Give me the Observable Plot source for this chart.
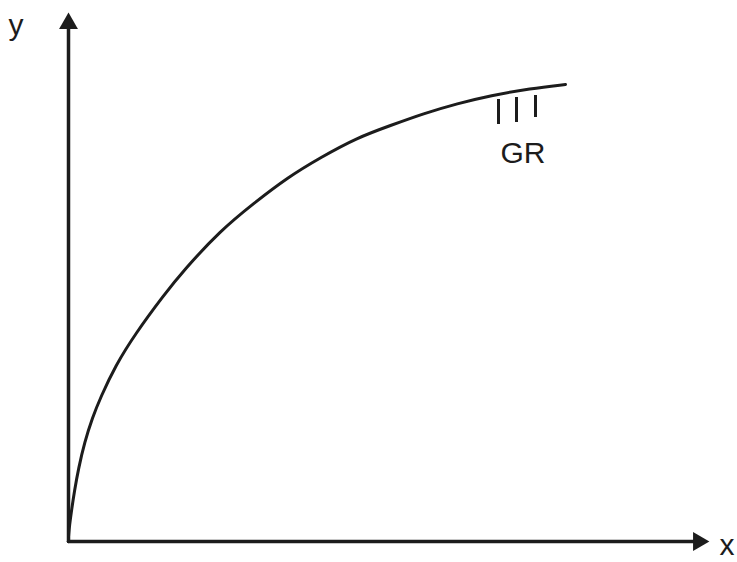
<!DOCTYPE html>
<html>
<head>
<meta charset="utf-8">
<script src="https://cdn.jsdelivr.net/npm/d3@7"></script>
<script src="https://cdn.jsdelivr.net/npm/@observablehq/plot@0.6"></script>
<style>
  html, body { margin: 0; padding: 0; background: #fff; }
  #chart svg { display: block; }
</style>
</head>
<body>
<div id="chart"></div>
<script>
// Saturating growth curve, drawn in plain units (origin at the axes' corner)
const curveX = [0, 1, 3, 6, 10, 16, 24, 32, 47, 67, 95, 115, 152, 185, 219, 252, 289, 322, 355, 389, 422, 462, 497];
const curveY = [5, 16, 31, 51, 73, 99, 124, 144, 176, 208, 246, 271, 311, 338, 364, 384, 404, 416, 428, 438, 446, 453, 457];

// Three short hatch strokes under the curve near its end
const hatchX = [430, 448, 467];
const hatchTop = [442, 444, 446];
const hatchBottom = [417, 419, 424];

// Axis extents and labels
const xAxisEnd = 628;
const yAxisEnd = 514;
const axisLabels = ["y", "x"];
const axisLabelX = [-60, 651];
const axisLabelY = [507, -13];
const curveLabel = "GR";
const curveLabelPos = [432, 379];

const ink = "#1c1c1c";
const font = "'Liberation Sans', Arial, Helvetica, sans-serif";

const curve = curveX.map((x, i) => ({x, y: curveY[i]}));
const hatches = hatchX.map((x, i) => ({x, y1: hatchBottom[i], y2: hatchTop[i]}));
const xAxis = [{x: 0, y: 0}, {x: xAxisEnd, y: 0}];
const yAxis = [{x: 0, y: 0}, {x: 0, y: yAxisEnd}];
const heads = [{x: 0, y: 518, rotate: 0}, {x: 630, y: 0, rotate: 90}];
const labels = axisLabels.map((t, i) => ({t, x: axisLabelX[i], y: axisLabelY[i]}));

const chart = Plot.plot({
  width: 737,
  height: 562,
  marginLeft: 68,
  marginRight: 29,
  marginTop: 12,
  marginBottom: 21,
  x: {domain: [0, 640], axis: null},
  y: {domain: [0, 529], axis: null},
  style: {background: "#fff", fontFamily: font},
  marks: [
    Plot.line(yAxis, {x: "x", y: "y", stroke: ink, strokeWidth: 3.5}),
    Plot.line(xAxis, {x: "x", y: "y", stroke: ink, strokeWidth: 3.5}),
    Plot.dot(heads, {x: "x", y: "y", rotate: "rotate", symbol: "triangle", r: 7, fill: ink, stroke: "none"}),
    Plot.line(curve, {x: "x", y: "y", curve: "basis", stroke: ink, strokeWidth: 3}),
    Plot.ruleX(hatches, {x: "x", y1: "y1", y2: "y2", stroke: ink, strokeWidth: 3}),
    Plot.text(labels, {x: "x", y: "y", text: "t", textAnchor: "start", lineAnchor: "bottom", fontSize: 30, fill: ink}),
    Plot.text([curveLabel], {x: curveLabelPos[0], y: curveLabelPos[1], text: d => d, textAnchor: "start", lineAnchor: "bottom", fontSize: 30, fill: ink})
  ]
});

document.getElementById("chart").appendChild(chart);
</script>
</body>
</html>
